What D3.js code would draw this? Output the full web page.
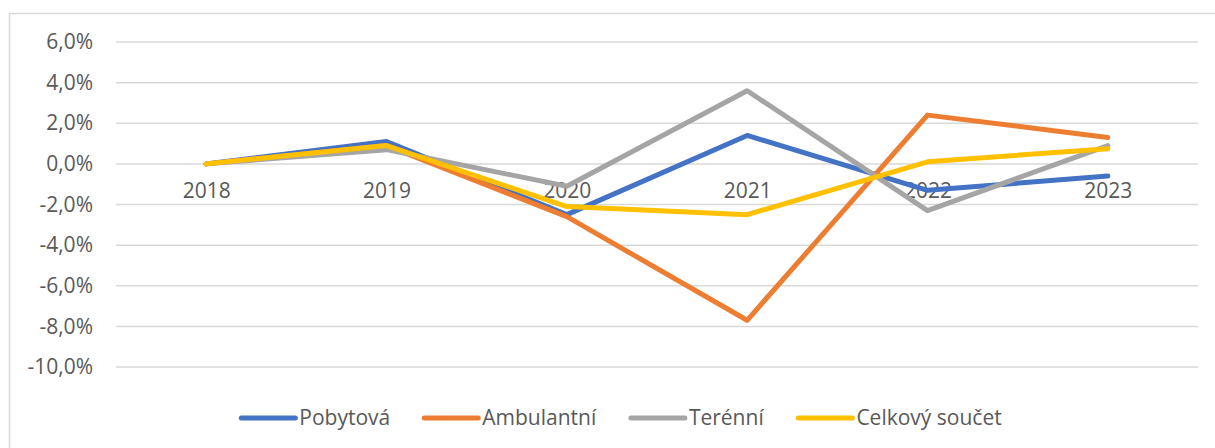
<!DOCTYPE html>
<html>
<head>
<meta charset="utf-8">
<script src="https://cdn.jsdelivr.net/npm/d3@7"></script>
<style>
  body { margin: 0; background: #fff; }
  svg { display: block; font-family: 'Open Sans', sans-serif; }
</style>
</head>
<body>
<div id="chart"></div>
<script>
// data
const years = ['2018', '2019', '2020', '2021', '2022', '2023'];
const pobytova = [0, 1.1, -2.5, 1.4, -1.3, -0.6];
const ambulantni = [0, 0.9, -2.6, -7.7, 2.4, 1.3];
const terenni = [0, 0.7, -1.1, 3.6, -2.3, 0.9];
const celkem = [0, 0.9, -2.1, -2.5, 0.1, 0.75];
const yTicks = [6, 4, 2, 0, -2, -4, -6, -8, -10];

const series = [
  { name: 'Pobytová', values: pobytova, color: '#4472C4' },
  { name: 'Ambulantní', values: ambulantni, color: '#ED7D31' },
  { name: 'Terénní', values: terenni, color: '#A5A5A5' },
  { name: 'Celkový součet', values: celkem, color: '#FFC000' }
];

const width = 1215, height = 448;
const margin = { top: 42, right: 17, bottom: 81, left: 116 };

const svg = d3.select('#chart')
  .append('svg')
  .attr('width', width)
  .attr('height', height);

// chart frame
svg.append('rect')
  .attr('x', 9.5)
  .attr('y', 13.5)
  .attr('width', 1220)
  .attr('height', 450)
  .attr('fill', 'none')
  .attr('stroke', '#d9d9d9')
  .attr('stroke-width', 1.5);

const x = d3.scalePoint()
  .domain(years)
  .range([margin.left, width - margin.right])
  .padding(0.5);

const y = d3.scaleLinear()
  .domain([-10, 6])
  .range([height - margin.bottom, margin.top]);

// grid lines
svg.append('g')
  .selectAll('line')
  .data(yTicks)
  .join('line')
  .attr('x1', margin.left)
  .attr('x2', width - margin.right)
  .attr('y1', d => y(d))
  .attr('y2', d => y(d))
  .attr('stroke', '#d9d9d9')
  .attr('stroke-width', 1.5);

// y-axis
const fmt = d => d.toFixed(1).replace('.', ',') + '%';
svg.append('g')
  .attr('transform', `translate(93, 0)`)
  .style('font-size', '21px')
  .call(d3.axisLeft(y).tickValues(yTicks).tickFormat(fmt).tickSize(0).tickPadding(0))
  .call(g => g.select('.domain').remove())
  .selectAll('.tick text')
  .attr('fill', '#595959')
  .style('font-family', 'Open Sans, sans-serif');

// x-axis labels at zero line
svg.append('g')
  .attr('transform', `translate(0, ${y(0)})`)
  .style('font-size', '21px')
  .call(d3.axisBottom(x).tickSize(0).tickPadding(19))
  .call(g => g.select('.domain').remove())
  .selectAll('.tick text')
  .attr('fill', '#595959')
  .style('font-family', 'Open Sans, sans-serif');

// lines
const line = d3.line()
  .x((d, i) => x(years[i]))
  .y(d => y(d));

svg.append('g')
  .selectAll('path')
  .data(series)
  .join('path')
  .attr('fill', 'none')
  .attr('stroke', d => d.color)
  .attr('stroke-width', 5)
  .attr('stroke-linejoin', 'round')
  .attr('stroke-linecap', 'round')
  .attr('d', d => line(d.values));

// legend
const legend = svg.append('g')
  .selectAll('g')
  .data(series)
  .join('g');

legend.append('line')
  .attr('x1', 0)
  .attr('x2', 54)
  .attr('stroke', d => d.color)
  .attr('stroke-width', 5)
  .attr('stroke-linecap', 'round');

legend.append('text')
  .attr('x', 58)
  .attr('dy', '0.35em')
  .attr('fill', '#595959')
  .style('font-size', '21px')
  .text(d => d.name);

let lx = 0;
const offsets = [];
legend.each(function () {
  offsets.push(lx);
  lx += this.getBBox().width + 34;
});
const startX = 621.5 - (lx - 34) / 2;
legend.attr('transform', (d, i) => `translate(${startX + offsets[i]}, 418)`);
</script>
</body>
</html>
